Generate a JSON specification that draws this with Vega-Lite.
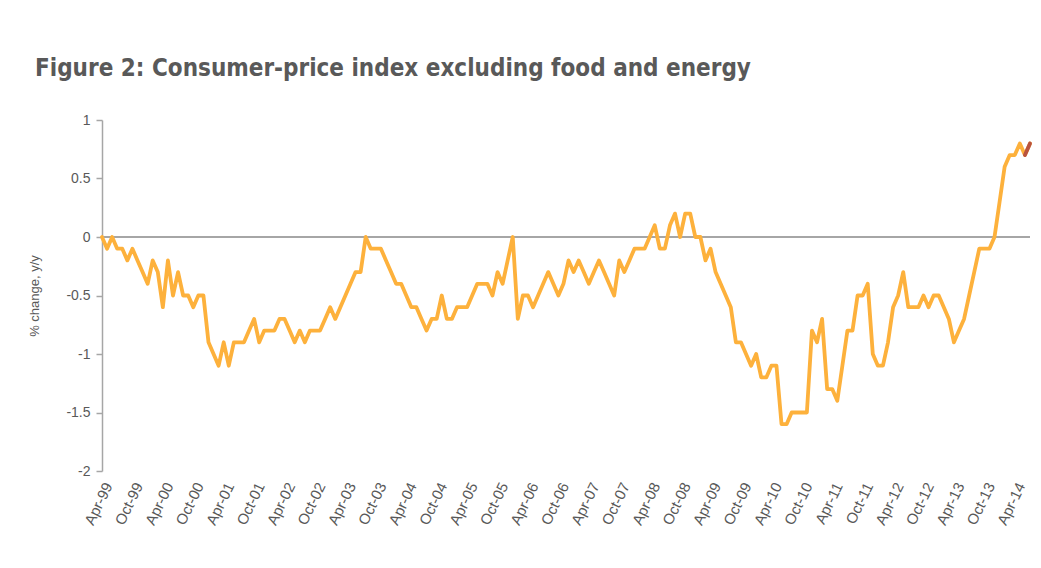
{
  "$schema": "https://vega.github.io/schema/vega-lite/v6.json",
  "width": 928,
  "height": 351,
  "autosize": "none",
  "padding": {"left": 102, "top": 120, "right": 11, "bottom": 97},
  "background": "white",
  "title": {
    "text": "Figure 2: Consumer-price index excluding food and energy",
    "anchor": "start",
    "frame": "group",
    "dx": -67,
    "offset": 13,
    "baseline": "alphabetic",
    "font": "DejaVu Sans Condensed",
    "fontSize": 24,
    "fontWeight": "bold",
    "color": "#595959"
  },
  "config": {
    "view": {"stroke": null},
    "axis": {
      "labelFont": "Liberation Sans",
      "titleFont": "Liberation Sans",
      "labelColor": "#595959",
      "titleColor": "#595959",
      "labelFontSize": 13,
      "titleFontSize": 13,
      "titleFontWeight": "normal",
      "grid": false
    }
  },
  "data": {
    "values": [
      {"m": "Apr-99", "v": 0.0}, {"m": "May-99", "v": -0.1}, {"m": "Jun-99", "v": 0.0}, {"m": "Jul-99", "v": -0.1}, {"m": "Aug-99", "v": -0.1}, {"m": "Sep-99", "v": -0.2}, {"m": "Oct-99", "v": -0.1}, {"m": "Nov-99", "v": -0.2}, {"m": "Dec-99", "v": -0.3},
      {"m": "Jan-00", "v": -0.4}, {"m": "Feb-00", "v": -0.2}, {"m": "Mar-00", "v": -0.3}, {"m": "Apr-00", "v": -0.6}, {"m": "May-00", "v": -0.2}, {"m": "Jun-00", "v": -0.5}, {"m": "Jul-00", "v": -0.3}, {"m": "Aug-00", "v": -0.5}, {"m": "Sep-00", "v": -0.5}, {"m": "Oct-00", "v": -0.6}, {"m": "Nov-00", "v": -0.5}, {"m": "Dec-00", "v": -0.5},
      {"m": "Jan-01", "v": -0.9}, {"m": "Feb-01", "v": -1.0}, {"m": "Mar-01", "v": -1.1}, {"m": "Apr-01", "v": -0.9}, {"m": "May-01", "v": -1.1}, {"m": "Jun-01", "v": -0.9}, {"m": "Jul-01", "v": -0.9}, {"m": "Aug-01", "v": -0.9}, {"m": "Sep-01", "v": -0.8}, {"m": "Oct-01", "v": -0.7}, {"m": "Nov-01", "v": -0.9}, {"m": "Dec-01", "v": -0.8},
      {"m": "Jan-02", "v": -0.8}, {"m": "Feb-02", "v": -0.8}, {"m": "Mar-02", "v": -0.7}, {"m": "Apr-02", "v": -0.7}, {"m": "May-02", "v": -0.8}, {"m": "Jun-02", "v": -0.9}, {"m": "Jul-02", "v": -0.8}, {"m": "Aug-02", "v": -0.9}, {"m": "Sep-02", "v": -0.8}, {"m": "Oct-02", "v": -0.8}, {"m": "Nov-02", "v": -0.8}, {"m": "Dec-02", "v": -0.7},
      {"m": "Jan-03", "v": -0.6}, {"m": "Feb-03", "v": -0.7}, {"m": "Mar-03", "v": -0.6}, {"m": "Apr-03", "v": -0.5}, {"m": "May-03", "v": -0.4}, {"m": "Jun-03", "v": -0.3}, {"m": "Jul-03", "v": -0.3}, {"m": "Aug-03", "v": 0.0}, {"m": "Sep-03", "v": -0.1}, {"m": "Oct-03", "v": -0.1}, {"m": "Nov-03", "v": -0.1}, {"m": "Dec-03", "v": -0.2},
      {"m": "Jan-04", "v": -0.3}, {"m": "Feb-04", "v": -0.4}, {"m": "Mar-04", "v": -0.4}, {"m": "Apr-04", "v": -0.5}, {"m": "May-04", "v": -0.6}, {"m": "Jun-04", "v": -0.6}, {"m": "Jul-04", "v": -0.7}, {"m": "Aug-04", "v": -0.8}, {"m": "Sep-04", "v": -0.7}, {"m": "Oct-04", "v": -0.7}, {"m": "Nov-04", "v": -0.5}, {"m": "Dec-04", "v": -0.7},
      {"m": "Jan-05", "v": -0.7}, {"m": "Feb-05", "v": -0.6}, {"m": "Mar-05", "v": -0.6}, {"m": "Apr-05", "v": -0.6}, {"m": "May-05", "v": -0.5}, {"m": "Jun-05", "v": -0.4}, {"m": "Jul-05", "v": -0.4}, {"m": "Aug-05", "v": -0.4}, {"m": "Sep-05", "v": -0.5}, {"m": "Oct-05", "v": -0.3}, {"m": "Nov-05", "v": -0.4}, {"m": "Dec-05", "v": -0.2},
      {"m": "Jan-06", "v": 0.0}, {"m": "Feb-06", "v": -0.7}, {"m": "Mar-06", "v": -0.5}, {"m": "Apr-06", "v": -0.5}, {"m": "May-06", "v": -0.6}, {"m": "Jun-06", "v": -0.5}, {"m": "Jul-06", "v": -0.4}, {"m": "Aug-06", "v": -0.3}, {"m": "Sep-06", "v": -0.4}, {"m": "Oct-06", "v": -0.5}, {"m": "Nov-06", "v": -0.4}, {"m": "Dec-06", "v": -0.2},
      {"m": "Jan-07", "v": -0.3}, {"m": "Feb-07", "v": -0.2}, {"m": "Mar-07", "v": -0.3}, {"m": "Apr-07", "v": -0.4}, {"m": "May-07", "v": -0.3}, {"m": "Jun-07", "v": -0.2}, {"m": "Jul-07", "v": -0.3}, {"m": "Aug-07", "v": -0.4}, {"m": "Sep-07", "v": -0.5}, {"m": "Oct-07", "v": -0.2}, {"m": "Nov-07", "v": -0.3}, {"m": "Dec-07", "v": -0.2},
      {"m": "Jan-08", "v": -0.1}, {"m": "Feb-08", "v": -0.1}, {"m": "Mar-08", "v": -0.1}, {"m": "Apr-08", "v": 0.0}, {"m": "May-08", "v": 0.1}, {"m": "Jun-08", "v": -0.1}, {"m": "Jul-08", "v": -0.1}, {"m": "Aug-08", "v": 0.1}, {"m": "Sep-08", "v": 0.2}, {"m": "Oct-08", "v": 0.0}, {"m": "Nov-08", "v": 0.2}, {"m": "Dec-08", "v": 0.2},
      {"m": "Jan-09", "v": 0.0}, {"m": "Feb-09", "v": 0.0}, {"m": "Mar-09", "v": -0.2}, {"m": "Apr-09", "v": -0.1}, {"m": "May-09", "v": -0.3}, {"m": "Jun-09", "v": -0.4}, {"m": "Jul-09", "v": -0.5}, {"m": "Aug-09", "v": -0.6}, {"m": "Sep-09", "v": -0.9}, {"m": "Oct-09", "v": -0.9}, {"m": "Nov-09", "v": -1.0}, {"m": "Dec-09", "v": -1.1},
      {"m": "Jan-10", "v": -1.0}, {"m": "Feb-10", "v": -1.2}, {"m": "Mar-10", "v": -1.2}, {"m": "Apr-10", "v": -1.1}, {"m": "May-10", "v": -1.1}, {"m": "Jun-10", "v": -1.6}, {"m": "Jul-10", "v": -1.6}, {"m": "Aug-10", "v": -1.5}, {"m": "Sep-10", "v": -1.5}, {"m": "Oct-10", "v": -1.5}, {"m": "Nov-10", "v": -1.5}, {"m": "Dec-10", "v": -0.8},
      {"m": "Jan-11", "v": -0.9}, {"m": "Feb-11", "v": -0.7}, {"m": "Mar-11", "v": -1.3}, {"m": "Apr-11", "v": -1.3}, {"m": "May-11", "v": -1.4}, {"m": "Jun-11", "v": -1.1}, {"m": "Jul-11", "v": -0.8}, {"m": "Aug-11", "v": -0.8}, {"m": "Sep-11", "v": -0.5}, {"m": "Oct-11", "v": -0.5}, {"m": "Nov-11", "v": -0.4}, {"m": "Dec-11", "v": -1.0},
      {"m": "Jan-12", "v": -1.1}, {"m": "Feb-12", "v": -1.1}, {"m": "Mar-12", "v": -0.9}, {"m": "Apr-12", "v": -0.6}, {"m": "May-12", "v": -0.5}, {"m": "Jun-12", "v": -0.3}, {"m": "Jul-12", "v": -0.6}, {"m": "Aug-12", "v": -0.6}, {"m": "Sep-12", "v": -0.6}, {"m": "Oct-12", "v": -0.5}, {"m": "Nov-12", "v": -0.6}, {"m": "Dec-12", "v": -0.5},
      {"m": "Jan-13", "v": -0.5}, {"m": "Feb-13", "v": -0.6}, {"m": "Mar-13", "v": -0.7}, {"m": "Apr-13", "v": -0.9}, {"m": "May-13", "v": -0.8}, {"m": "Jun-13", "v": -0.7}, {"m": "Jul-13", "v": -0.5}, {"m": "Aug-13", "v": -0.3}, {"m": "Sep-13", "v": -0.1}, {"m": "Oct-13", "v": -0.1}, {"m": "Nov-13", "v": -0.1}, {"m": "Dec-13", "v": 0.0},
      {"m": "Jan-14", "v": 0.3}, {"m": "Feb-14", "v": 0.6}, {"m": "Mar-14", "v": 0.7}, {"m": "Apr-14", "v": 0.7}, {"m": "May-14", "v": 0.8}, {"m": "Jun-14", "v": 0.7}, {"m": "Jul-14", "v": 0.8}
    ]
  },
  "layer": [
    {
      "mark": {"type": "rule", "color": "#A6A6A6", "strokeWidth": 1.5},
      "encoding": {
        "y": {"datum": 0, "type": "quantitative", "scale": {"domain": [-2, 1], "nice": false, "zero": false},
          "axis": {"values": [-2, -1.5, -1, -0.5, 0, 0.5, 1], "labelExpr": "datum.value + ''", "title": "% change, y/y", "domainColor": "#A6A6A6", "domainWidth": 1.5, "tickColor": "#A6A6A6", "tickWidth": 1.5, "tickSize": 6, "labelPadding": 6, "labelFontSize": 14, "titlePadding": 24}}
      }
    },
    {
      "mark": {"type": "line", "color": "#FDB13C", "strokeWidth": 3.8, "strokeJoin": "round", "strokeCap": "round"},
      "encoding": {
        "x": {"field": "m", "type": "ordinal", "sort": null, "scale": {"type": "point", "padding": 0},
          "axis": {"title": null, "domain": false, "ticks": false, "labelAngle": -64, "labelAlign": "right", "labelBaseline": "middle", "labelPadding": 12, "labelOffset": 6, "labelFontSize": 15, "labelOverlap": false,
            "values": ["Apr-99", "Oct-99", "Apr-00", "Oct-00", "Apr-01", "Oct-01", "Apr-02", "Oct-02", "Apr-03", "Oct-03", "Apr-04", "Oct-04", "Apr-05", "Oct-05", "Apr-06", "Oct-06", "Apr-07", "Oct-07", "Apr-08", "Oct-08", "Apr-09", "Oct-09", "Apr-10", "Oct-10", "Apr-11", "Oct-11", "Apr-12", "Oct-12", "Apr-13", "Oct-13", "Apr-14"]}},
        "y": {"field": "v", "type": "quantitative", "scale": {"domain": [-2, 1], "nice": false, "zero": false},
          "axis": {"values": [-2, -1.5, -1, -0.5, 0, 0.5, 1], "labelExpr": "datum.value + ''", "title": "% change, y/y", "domainColor": "#A6A6A6", "domainWidth": 1.5, "tickColor": "#A6A6A6", "tickWidth": 1.5, "tickSize": 6, "labelPadding": 6, "labelFontSize": 14, "titlePadding": 24}}
      }
    },
    {
      "transform": [{"filter": {"field": "m", "oneOf": ["Jun-14", "Jul-14"]}}],
      "mark": {"type": "line", "color": "#B9533F", "strokeWidth": 3.8, "strokeCap": "round"},
      "encoding": {
        "x": {"field": "m", "type": "ordinal", "sort": null},
        "y": {"field": "v", "type": "quantitative"}
      }
    }
  ]
}
